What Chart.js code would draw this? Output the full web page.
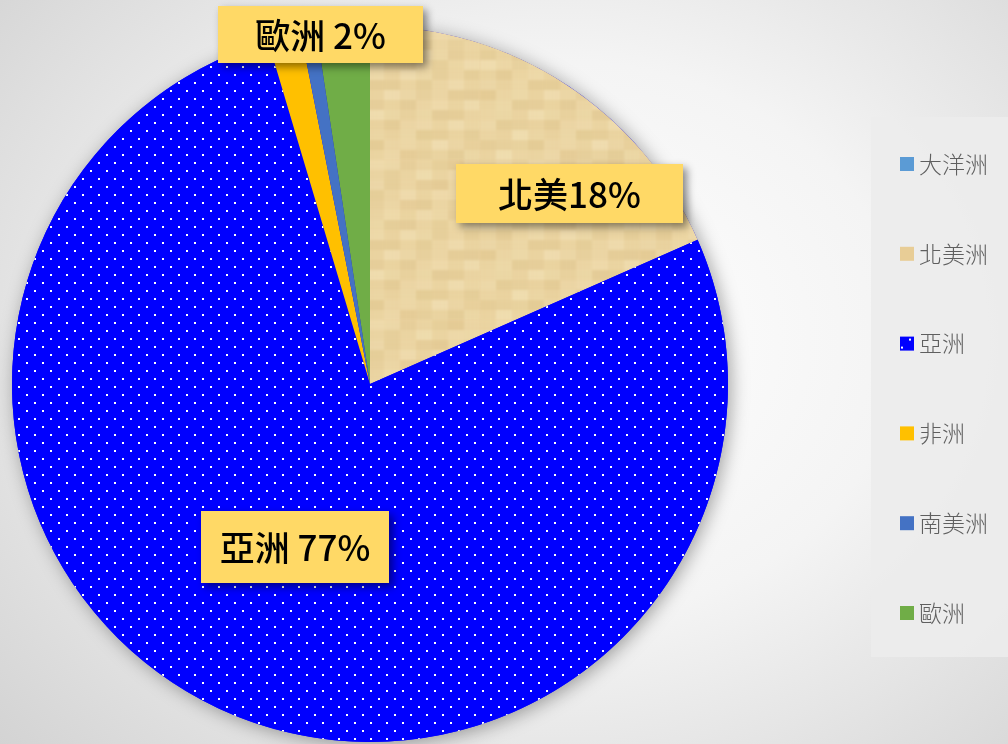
<!DOCTYPE html>
<html><head><meta charset="utf-8">
<script src="https://cdn.jsdelivr.net/npm/chart.js@4/dist/chart.umd.min.js"></script>
<style>
html,body{margin:0;padding:0;}
body{width:1008px;height:744px;overflow:hidden;background:radial-gradient(ellipse 760px 620px at 560px 340px,#ffffff 0%,#f4f4f4 45%,#d2d2d2 100%);}
#wrap{position:absolute;left:0;top:0;width:1008px;height:744px;}
</style></head>
<body><div id="wrap"><canvas id="c" width="1008" height="744"></canvas></div>
<script>
// ---- data ----
const categories = ['大洋洲', '北美洲', '亞洲', '非洲', '南美洲', '歐洲'];
const shares = [0, 18.4, 77.0, 1.5, 0.7, 2.4];
const labelNames = ['', '北美', '亞洲 ', '', '', '歐洲 '];

// ---- fills ----
function dotPattern(ctx){
  const c=document.createElement('canvas');c.width=16;c.height=16;
  const g=c.getContext('2d');g.fillStyle='#0000FF';g.fillRect(0,0,16,16);
  g.fillStyle='#ffffff';g.fillRect(2,2,2,2);g.fillRect(10,10,2,2);
  return ctx.createPattern(c,'repeat');
}
function papyrusPattern(ctx){
  const N=160;
  const c=document.createElement('canvas');c.width=N;c.height=N;
  const g=c.getContext('2d');g.fillStyle='#ECD6A3';g.fillRect(0,0,N,N);
  for(let y=0;y<N;y+=10){
    for(let x=0;x<N;x+=16){
      const v=Math.sin(x*0.09+y*0.23)*Math.cos(y*0.11-x*0.05);
      g.fillStyle=v>0?'rgba(250,236,200,'+(v*0.4).toFixed(3)+')':'rgba(200,165,100,'+(-v*0.2).toFixed(3)+')';
      g.fillRect(x,y,16,10);
    }
  }
  for(let i=0;i<N;i+=4){
    const a=0.02+0.05*Math.abs(Math.sin(i*1.37));
    g.fillStyle='rgba(185,145,85,'+a.toFixed(3)+')';g.fillRect(0,i,N,1);
    const b=0.02+0.05*Math.abs(Math.cos(i*0.91));
    g.fillStyle='rgba(185,145,85,'+b.toFixed(3)+')';g.fillRect(i,0,1,N);
  }
  const c2=document.createElement('canvas');c2.width=N;c2.height=N;
  const g2=c2.getContext('2d');
  g2.fillStyle='#ECD6A3';g2.fillRect(0,0,N,N);
  g2.filter='blur(1.2px)';
  for(let dx=-1;dx<=1;dx++)for(let dy=-1;dy<=1;dy++)g2.drawImage(c,dx*N,dy*N);
  return ctx.createPattern(c2,'repeat');
}
const canvas=document.getElementById('c');
const ctx=canvas.getContext('2d');
const colors=['#5B9BD5',papyrusPattern(ctx),dotPattern(ctx),'#FFC000','#4472C4','#70AD47'];
const legendSwatch=['#5B9BD5','#E8CD96',null,'#FFC000','#4472C4','#70AD47'];

const labelBoxes={
  1:{x:456,y:164,w:227,h:59},
  2:{x:201,y:511,w:188,h:72},
  5:{x:218,y:6,w:205,h:57}
};

const pieShadow={
  id:'pieShadow',
  beforeDatasetsDraw(chart){
    const a=chart.getDatasetMeta(0).data[0];
    const c=chart.ctx;c.save();
    c.shadowColor='rgba(0,0,0,0.35)';c.shadowBlur=18;c.shadowOffsetX=3;c.shadowOffsetY=3;
    c.fillStyle='#0000FF';c.beginPath();c.arc(a.x,a.y,a.outerRadius,0,Math.PI*2);c.fill();c.restore();
  }
};
const boxLabels={
  id:'boxLabels',
  afterDatasetsDraw(chart){
    const c=chart.ctx;const data=chart.data.datasets[0].data;
    const total=data.reduce((s,v)=>s+v,0);
    Object.keys(labelBoxes).forEach(k=>{
      const b=labelBoxes[k];
      c.save();
      c.shadowColor='rgba(0,0,0,0.45)';c.shadowBlur=8;c.shadowOffsetX=4;c.shadowOffsetY=4;
      c.fillStyle='#FFD966';c.fillRect(b.x,b.y,b.w,b.h);
      c.restore();
      c.save();
      c.fillStyle='#000';c.font='500 35px "Noto Sans CJK TC"';
      c.textAlign='center';c.textBaseline='middle';
      const txt=labelNames[k]+Math.round(data[k]/total*100)+'%';
      c.fillText(txt,b.x+b.w/2,b.y+b.h/2+1);
      c.restore();
    });
  }
};
const customLegend={
  id:'customLegend',
  afterDraw(chart){
    const c=chart.ctx;
    c.save();
    c.fillStyle='rgba(236,236,236,0.9)';c.fillRect(871,117,137,540);
    chart.data.labels.forEach((lab,i)=>{
      const cy=164+i*89.8;
      if(i===2){
        c.fillStyle='#0000FF';c.fillRect(900,cy-7,14,14);
        c.fillStyle='#fff';c.fillRect(909,cy-5,2,2);c.fillRect(901,cy+3,2,2);
      } else {c.fillStyle=legendSwatch[i];c.fillRect(900,cy-7,14,14);}
      c.fillStyle='#5f5f5f';c.font='300 23px "Noto Sans CJK TC"';
      c.textAlign='left';c.textBaseline='middle';
      c.fillText(lab,919,cy);
    });
    c.restore();
  }
};

new Chart(canvas,{
  type:'pie',
  data:{labels:categories,datasets:[{data:shares,backgroundColor:colors,borderWidth:0}]},
  options:{
    responsive:false,animation:false,
    layout:{padding:{left:12,top:26,right:280,bottom:2}},
    plugins:{legend:{display:false},tooltip:{enabled:false}}
  },
  plugins:[pieShadow,boxLabels,customLegend]
});
</script>
</body></html>
